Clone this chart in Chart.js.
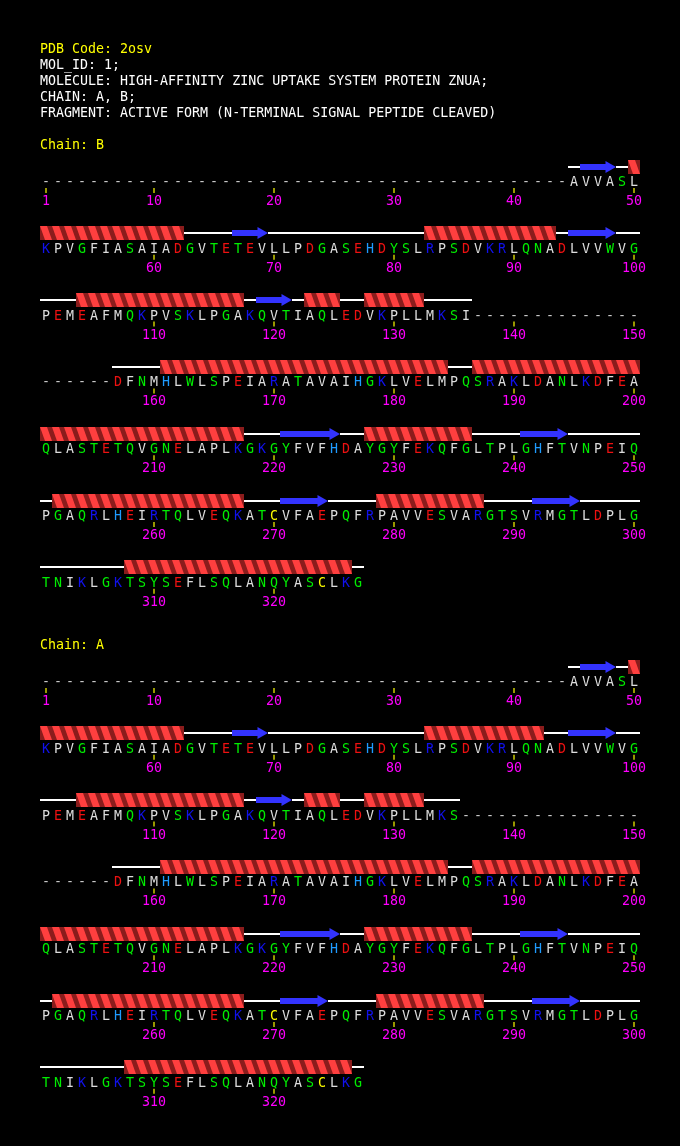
<!DOCTYPE html>
<html>
<head>
<meta charset="utf-8">
<script src="https://cdn.jsdelivr.net/npm/chart.js@4.4.1/dist/chart.umd.min.js"></script>
<style>
  html, body { margin: 0; padding: 0; background: #000; }
  canvas { display: block; }
</style>
</head>
<body>
<canvas id="chart" width="680" height="1146"></canvas>
<script>
// header text
var pdbCode = "PDB Code: 2osv";
var headerLines = [
    "MOL_ID: 1;",
    "MOLECULE: HIGH-AFFINITY ZINC UPTAKE SYSTEM PROTEIN ZNUA;",
    "CHAIN: A, B;",
    "FRAGMENT: ACTIVE FORM (N-TERMINAL SIGNAL PEPTIDE CLEAVED)"
];
var chainNames = ["B", "A"];

// sequences, 50 residues per row, "-" = not in structure
var seqB = [
    "--------------------------------------------AVVASL",
    "KPVGFIASAIADGVTETEVLLPDGASEHDYSLRPSDVKRLQNADLVVWVG",
    "PEMEAFMQKPVSKLPGAKQVTIAQLEDVKPLLMKSI--------------",
    "------DFNMHLWLSPEIARATAVAIHGKLVELMPQSRAKLDANLKDFEA",
    "QLASTETQVGNELAPLKGKGYFVFHDAYGYFEKQFGLTPLGHFTVNPEIQ",
    "PGAQRLHEIRTQLVEQKATCVFAEPQFRPAVVESVARGTSVRMGTLDPLG",
    "TNIKLGKTSYSEFLSQLANQYASCLKG"
];
var seqA = [
    "--------------------------------------------AVVASL",
    "KPVGFIASAIADGVTETEVLLPDGASEHDYSLRPSDVKRLQNADLVVWVG",
    "PEMEAFMQKPVSKLPGAKQVTIAQLEDVKPLLMKS---------------",
    "------DFNMHLWLSPEIARATAVAIHGKLVELMPQSRAKLDANLKDFEA",
    "QLASTETQVGNELAPLKGKGYFVFHDAYGYFEKQFGLTPLGHFTVNPEIQ",
    "PGAQRLHEIRTQLVEQKATCVFAEPQFRPAVVESVARGTSVRMGTLDPLG",
    "TNIKLGKTSYSEFLSQLANQYASCLKG"
];

// secondary structure, [first residue, last residue]
var helixB = [[50,62],[83,93],[104,117],[123,125],[128,132],[161,184],[187,217],[228,236],[252,267],[279,287],[308,326]];
var strandB = [[46,48],[67,69],[95,98],[119,121],[221,225],[241,244],[271,274],[292,295]];
var coilB = [[45,45],[49,49],[63,66],[70,82],[94,94],[99,103],[118,118],[122,122],[126,127],[133,136],
             [157,160],[185,186],[218,220],[226,227],[237,240],[245,251],[268,270],[275,278],[288,291],[296,307],[327,327]];

var helixA = [[50,62],[83,92],[104,117],[123,125],[128,132],[161,184],[187,217],[228,236],[252,267],[279,287],[308,326]];
var strandA = [[46,48],[67,69],[95,98],[119,121],[221,225],[241,244],[271,274],[292,295]];
var coilA = [[45,45],[49,49],[63,66],[70,82],[93,94],[99,103],[118,118],[122,122],[126,127],[133,135],
             [157,160],[185,186],[218,220],[226,227],[237,240],[245,251],[268,270],[275,278],[288,291],[296,307],[327,327]];

var tickResidues = [1,10,20,30,40,50,60,70,80,90,100,110,120,130,140,150,160,170,180,190,200,
                    210,220,230,240,250,260,270,280,290,300,310,320];

// layout
var PER_ROW = 50;
var ROW_Y0 = 181, ROW_STEP = 66.8, CHAIN_STEP = 500;
var SS_DY = -14.5, TICK_DY = 9.5, NUM_DY = 24, CAP_DY = 5;
var HEAD_R = 7;
var FONT = "13.3px 'DejaVu Sans Mono', monospace";

function rowOf(n){ return Math.floor((n - 1) / PER_ROW); }
function colOf(n){ return (n - 1) % PER_ROW + 1; }
function yOf(chain, n){ return ROW_Y0 + CHAIN_STEP * chain + ROW_STEP * rowOf(n); }
function ssY(chain, n){ return Math.round(yOf(chain, n) + SS_DY); }

// split a segment at row ends
function pieces(seg){
    var out = [];
    var s = seg[0];
    while (s <= seg[1]) {
        var rowEnd = (rowOf(s) + 1) * PER_ROW;
        var e = Math.min(seg[1], rowEnd);
        out.push([s, e]);
        s = e + 1;
    }
    return out;
}

function residueColour(c){
    if (c === "-") return "#c8c8c8";
    if ("DE".indexOf(c) >= 0) return "#ee1111";
    if ("KR".indexOf(c) >= 0) return "#1111ee";
    if (c === "H") return "#1e9bff";
    if (c === "C") return "#ffff00";
    if ("GSTNQYW".indexOf(c) >= 0) return "#00ee00";
    return "#dcdcdc";
}

function helixTile(){
    var c = document.createElement("canvas");
    c.width = 12; c.height = 14;
    var g = c.getContext("2d");
    g.fillStyle = "#8b1c1c";
    g.fillRect(0, 0, 12, 14);
    g.fillStyle = "#ff3f3f";
    [-12, 0, 12].forEach(function(o){
        g.beginPath();
        g.moveTo(o, 0); g.lineTo(o + 7, 0); g.lineTo(o + 12, 14); g.lineTo(o + 5, 14);
        g.closePath();
        g.fill();
    });
    return c;
}

function buildDatasets(){
    var seqs = [seqB, seqA];
    var helices = [helixB, helixA];
    var strands = [strandB, strandA];
    var coils = [coilB, coilA];
    var letters = [], ticks = [], coil = [], body = [], heads = [], helix = [];

    for (var k = 0; k < 2; k++) {
        var full = seqs[k].join("");
        for (var i = 0; i < full.length; i++) {
            var n = i + 1;
            letters.push({x: colOf(n), y: yOf(k, n), ch: full[i]});
        }
        tickResidues.forEach(function(t){
            if (t <= full.length) ticks.push({x: colOf(t), y: yOf(k, t) + TICK_DY, label: t});
        });
        coils[k].forEach(function(seg){
            pieces(seg).forEach(function(p){
                var y = ssY(k, p[0]);
                coil.push({x: colOf(p[0]) - 0.5, y: y}, {x: colOf(p[1]) + 0.5, y: y}, {x: colOf(p[1]) + 0.5, y: null});
            });
        });
        strands[k].forEach(function(seg){
            var y = ssY(k, seg[0]);
            var headX = colOf(seg[1]) + 0.5 - HEAD_R / 12;
            body.push({x: colOf(seg[0]) - 0.5, y: y}, {x: headX, y: y}, {x: headX, y: null});
            heads.push({x: headX, y: y});
        });
        helices[k].forEach(function(seg){
            for (var n = seg[0]; n <= seg[1]; n++) helix.push({x: colOf(n), y: ssY(k, n)});
        });
    }

    return [
        {kind: "letters", data: letters, pointRadius: 0, order: 1},
        {kind: "ticks", data: ticks, pointStyle: "line", rotation: 90, pointRadius: 2.5,
         pointBorderColor: "#ffff00", pointBorderWidth: 1.2, order: 2},
        {kind: "helix", data: helix, pointStyle: helixTile(), pointRadius: 1, order: 3},
        {kind: "heads", data: heads, pointStyle: "triangle", rotation: 90, pointRadius: HEAD_R,
         pointBackgroundColor: "#3333ff", pointBorderWidth: 0, order: 4},
        {kind: "body", data: body, showLine: true, borderColor: "#3333ff", borderWidth: 6,
         borderCapStyle: "butt", pointRadius: 0, order: 5},
        {kind: "coil", data: coil, showLine: true, borderColor: "#ffffff", borderWidth: 2,
         pointRadius: 0, order: 6}
    ];
}

var bgPlugin = {
    id: "bg",
    beforeDraw: function(chart){
        var c = chart.ctx;
        c.save();
        c.fillStyle = "#000";
        c.fillRect(0, 0, chart.width, chart.height);
        c.restore();
    }
};

var textPlugin = {
    id: "texts",
    afterDatasetsDraw: function(chart){
        var c = chart.ctx;
        c.save();
        c.font = FONT;
        c.textBaseline = "alphabetic";
        c.textAlign = "left";
        c.fillStyle = "#ffff00";
        c.fillText(pdbCode, 40, 48 + CAP_DY);
        c.fillStyle = "#ffffff";
        headerLines.forEach(function(l, i){ c.fillText(l, 40, 64 + 16 * i + CAP_DY); });
        c.fillStyle = "#ffff00";
        chainNames.forEach(function(nm, k){ c.fillText("Chain: " + nm, 40, 144 + CHAIN_STEP * k + CAP_DY); });

        c.textAlign = "center";
        chart.data.datasets.forEach(function(ds, di){
            var meta = chart.getDatasetMeta(di);
            if (ds.kind === "letters") {
                meta.data.forEach(function(pt, i){
                    c.fillStyle = residueColour(ds.data[i].ch);
                    c.fillText(ds.data[i].ch, pt.x, pt.y + CAP_DY);
                });
            }
            if (ds.kind === "ticks") {
                c.fillStyle = "#ff00ff";
                meta.data.forEach(function(pt, i){
                    c.fillText(String(ds.data[i].label), pt.x, pt.y + NUM_DY - TICK_DY);
                });
            }
        });
        c.restore();
    }
};

var ctx = document.getElementById("chart");
var chart = new Chart(ctx, {
    type: "scatter",
    data: {datasets: buildDatasets()},
    options: {
        responsive: false,
        animation: false,
        events: [],
        layout: {padding: 0, autoPadding: false},
        plugins: {legend: {display: false}, tooltip: {enabled: false}},
        scales: {
            x: {type: "linear", min: 1 - 46 / 12, max: 1 - 46 / 12 + 680 / 12, display: false},
            y: {type: "linear", min: 0, max: 1146, reverse: true, display: false}
        }
    },
    plugins: [bgPlugin, textPlugin]
});
</script>
</body>
</html>
